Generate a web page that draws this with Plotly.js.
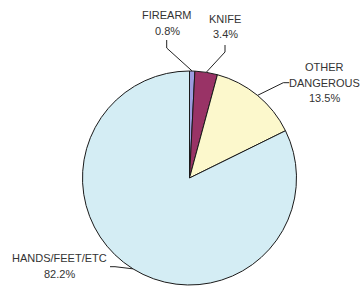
<!DOCTYPE html>
<html>
<head>
<meta charset="utf-8">
<script src="https://cdn.plot.ly/plotly-3.0.1.min.js"></script>
<style>html,body{margin:0;padding:0;background:#fff;}#chart{width:363px;height:287px;}</style>
</head>
<body>
<div id="chart"></div>
<script>
// Data
var categories = ['FIREARM', 'KNIFE', 'OTHER<br>DANGEROUS', 'HANDS/FEET/ETC'];
var percentages = [0.8, 3.4, 13.5, 82.2];
var colors = ['#9c9ce0', '#993366', '#fcf8cc', '#d4edf4'];

// Layout helpers (pixel geometry of the figure)
var W = 363, H = 287;
var cx = 189.5, cy = 178, R = 107;
function px(x) { return x / W; }
function py(y) { return 1 - y / H; }

// label placement (pixels: centre of first text line) and leader knees
var labelPos = [[167, 15], [225, 18.5], [324, 67.5], [59, 258]];
var knees = [
  [[166.7, 40], [166.7, 48]],
  [[225, 45], [225, 52]],
  [[289.3, 82.7], [283.3, 82.7]],
  [[110, 266.7], [115, 266.7]]
];
var lineGap = 15.5;

var total = percentages.reduce(function (a, b) { return a + b; }, 0);
var annotations = [], shapes = [];
var cum = 0;
for (var i = 0; i < categories.length; i++) {
  var mid = (cum + percentages[i] / 2) / total * 2 * Math.PI;
  cum += percentages[i];
  var ex = cx + R * Math.sin(mid), ey = cy - R * Math.cos(mid);
  var lines = categories[i].split('<br>').concat([percentages[i].toFixed(1) + '%']);
  for (var j = 0; j < lines.length; j++) {
    annotations.push({
      xref: 'paper', yref: 'paper',
      x: px(labelPos[i][0]), y: py(labelPos[i][1] + j * lineGap),
      xanchor: 'center', yanchor: 'middle',
      text: lines[j], showarrow: false,
      font: { family: 'Liberation Sans, Arial, sans-serif', size: 11, color: '#333333' }
    });
  }
  var k = knees[i];
  shapes.push({
    type: 'path', xref: 'paper', yref: 'paper',
    path: 'M ' + px(k[0][0]) + ' ' + py(k[0][1]) + ' L ' + px(k[1][0]) + ' ' + py(k[1][1]) +
          ' L ' + px(ex) + ' ' + py(ey),
    line: { color: '#222222', width: 1 }
  });
}

var trace = {
  type: 'pie',
  labels: categories,
  values: percentages,
  sort: false,
  direction: 'clockwise',
  rotation: 0,
  textinfo: 'none',
  hoverinfo: 'label+percent',
  marker: { colors: colors, line: { color: '#1a1a1a', width: 1 } },
  domain: { x: [px(cx - R), px(cx + R)], y: [py(cy + R), py(cy - R)] },
  showlegend: false
};

var layout = {
  width: W, height: H,
  margin: { l: 0, r: 0, t: 0, b: 0 },
  paper_bgcolor: '#ffffff',
  showlegend: false,
  annotations: annotations,
  shapes: shapes
};

Plotly.newPlot('chart', [trace], layout, { displayModeBar: false, staticPlot: true });
</script>
</body>
</html>
